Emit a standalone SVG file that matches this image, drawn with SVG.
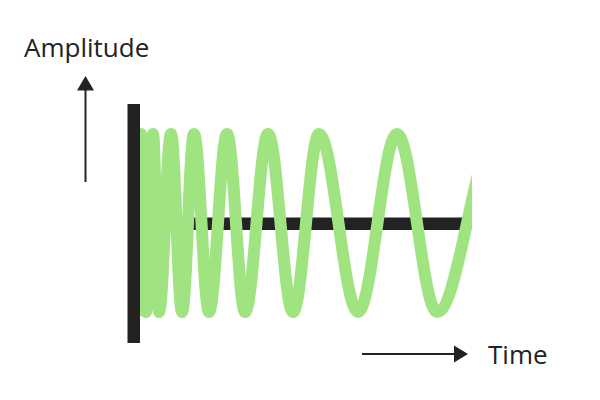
<svg xmlns="http://www.w3.org/2000/svg" width="600" height="400" viewBox="0 0 600 400">
  <style>
    .lbl { font-family: "Open Sans", "Liberation Sans", sans-serif; font-size: 26px; fill: #222222; }
    .axis { stroke: #222222; stroke-width: 2; fill: none; }
    .head { fill: #222222; }
    .bar { fill: #222222; }
    .wave { fill: none; stroke: #9fe480; stroke-width: 12; stroke-linejoin: round; }
  </style>
  <defs>
    <clipPath id="waveClip">
      <rect x="139" y="100" width="333" height="240"/>
    </clipPath>
  </defs>
  <rect width="600" height="400" fill="#ffffff"/>

  <g id="baseline-bar">
    <rect class="bar" x="139" y="217.5" width="329" height="12.5"/>
  </g>

  <g id="wave" clip-path="url(#waveClip)">
    <path class="wave" d="M 136 312
      C 137.8 312, 139.2 134, 141 134
      C 142.8 134, 144.2 312, 146 312
      C 148.5 312, 150.5 134, 153 134
      C 155.2 134, 156.8 312, 159 312
      C 163.4 312, 166.6 134, 171 134
      C 175 134, 178 312, 182 312
      C 186.4 312, 189.6 134, 194 134
      C 199.4 134, 203.6 312, 209 312
      C 215.5 312, 220.5 134, 227 134
      C 233.5 134, 238.5 312, 245 312
      C 253.3 312, 259.7 134, 268 134
      C 277.1 134, 283.9 312, 293 312
      C 302.4 312, 309.6 134, 319 134
      C 333.2 134, 343.8 312, 358 312
      C 372.2 312, 382.8 134, 397 134
      C 411.5 134, 422.5 312, 437 312
      C 458.8 312, 475.2 134, 497 134"/>
  </g>

  <g id="vertical-bar">
    <rect class="bar" x="127.5" y="104" width="12.5" height="239"/>
  </g>

  <g id="connectors">
    <line class="axis" x1="85.5" y1="182" x2="85.5" y2="89"/>
    <polygon class="head" points="77,90.5 94,90.5 85.5,76"/>
    <line class="axis" x1="362" y1="354" x2="455" y2="354"/>
    <polygon class="head" points="454,345.5 454,362.5 468,354"/>
  </g>

  <g id="label-amplitude">
    <text class="lbl" x="24" y="57">Amplitude</text>
  </g>
  <g id="label-time">
    <text class="lbl" x="488" y="364">Time</text>
  </g>
</svg>
